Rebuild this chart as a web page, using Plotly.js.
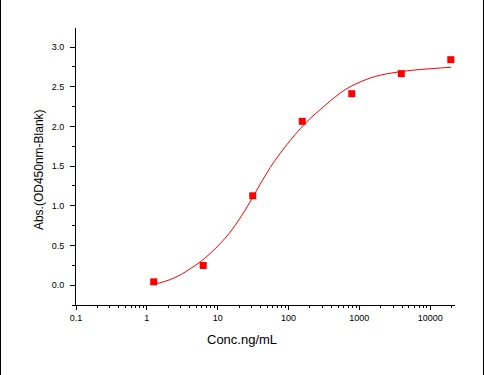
<!DOCTYPE html>
<html>
<head>
<meta charset="utf-8">
<script src="https://cdn.plot.ly/plotly-3.0.1.min.js"></script>
<style>
  html, body { margin: 0; padding: 0; background: #fff; }
  #wrap { position: relative; width: 485px; height: 375px; overflow: hidden; }
  #chart { width: 485px; height: 375px; }
  .vb { position: absolute; top: 0; width: 1px; height: 375px; background: #000; }
</style>
</head>
<body>
<div id="wrap">
  <div id="chart"></div>
  <div class="vb" style="left:0px"></div>
  <div class="vb" style="left:483px"></div>
</div>
<script>
// Measured standards
const concX = [1.25, 6.25, 31.25, 156.25, 781.25, 3906.25, 19531.25];
const absY  = [0.042, 0.248, 1.126, 2.064, 2.412, 2.665, 2.841];

// Fitted curve
const curveX = [1.24, 1.53, 2.13, 2.95, 4.07, 5.64, 7.81, 10.8, 15.0, 20.7, 28.7, 39.7, 55.0, 76.1, 105, 146, 202, 279, 387, 536, 741, 1026, 1422, 1968, 2723, 3770, 5220, 7230, 10000, 13840, 19820];
const curveY = [0.013, 0.029, 0.070, 0.128, 0.205, 0.292, 0.398, 0.522, 0.668, 0.845, 1.05, 1.27, 1.48, 1.66, 1.82, 1.97, 2.10, 2.21, 2.32, 2.42, 2.50, 2.56, 2.61, 2.645, 2.67, 2.69, 2.705, 2.717, 2.727, 2.736, 2.745];

// Tick labels
const xTickVals = [0.1, 1, 10, 100, 1000, 10000];
const xTickText = ["0.1", "1", "10", "100", "1000", "10000"];

const xTitle = "Conc.ng/mL";
const yTitle = "Abs.(OD450nm-Blank)";

const FONT = "Liberation Sans, Arial, sans-serif";

const traces = [
  {
    x: curveX, y: curveY, type: "scatter", mode: "lines",
    line: { color: "#ff0000", width: 1, shape: "spline", smoothing: 1 },
    hoverinfo: "skip", showlegend: false
  },
  {
    x: concX, y: absY, type: "scatter", mode: "markers",
    marker: { symbol: "square", size: 7, color: "#ff0000", line: { width: 0 } },
    showlegend: false
  }
];

const layout = {
  width: 485, height: 375,
  margin: { l: 76, r: 30, t: 28, b: 70, pad: 0 },
  paper_bgcolor: "#ffffff", plot_bgcolor: "#ffffff",
  font: { family: FONT, size: 9, color: "#000" },
  showlegend: false,
  xaxis: {
    type: "log", range: [-1, 4.35],
    tickmode: "array", tickvals: xTickVals, ticktext: xTickText,
    showline: true, linecolor: "#000", linewidth: 1, mirror: false,
    showgrid: false, zeroline: false,
    ticks: "outside", ticklen: 4, tickwidth: 1, tickcolor: "#000",
    tickfont: { family: FONT, size: 9, color: "#000" },
    minor: { dtick: "D1", ticks: "outside", ticklen: 2, tickwidth: 1, tickcolor: "#000", showgrid: false }
  },
  yaxis: {
    range: [-0.25, 3.24],
    tickmode: "linear", tick0: 0, dtick: 0.5, tickformat: ".1f",
    showline: true, linecolor: "#000", linewidth: 1, mirror: false,
    showgrid: false, zeroline: false,
    ticks: "outside", ticklen: 5, tickwidth: 1, tickcolor: "#000",
    ticklabelstandoff: 4,
    tickfont: { family: FONT, size: 9, color: "#000" },
    minor: { dtick: 0.25, ticks: "outside", ticklen: 3, tickwidth: 1, tickcolor: "#000", showgrid: false }
  },
  annotations: [
    { text: xTitle, xref: "paper", yref: "paper", x: 0.439, y: -0.126,
      xanchor: "center", yanchor: "middle", showarrow: false,
      font: { family: FONT, size: 13, color: "#000" } },
    { text: yTitle, xref: "paper", yref: "paper", x: -0.0976, y: 0.487,
      xanchor: "center", yanchor: "middle", textangle: -90, showarrow: false,
      font: { family: FONT, size: 12, color: "#000" } }
  ]
};

Plotly.newPlot("chart", traces, layout, { displayModeBar: false, staticPlot: true });
</script>
</body>
</html>
